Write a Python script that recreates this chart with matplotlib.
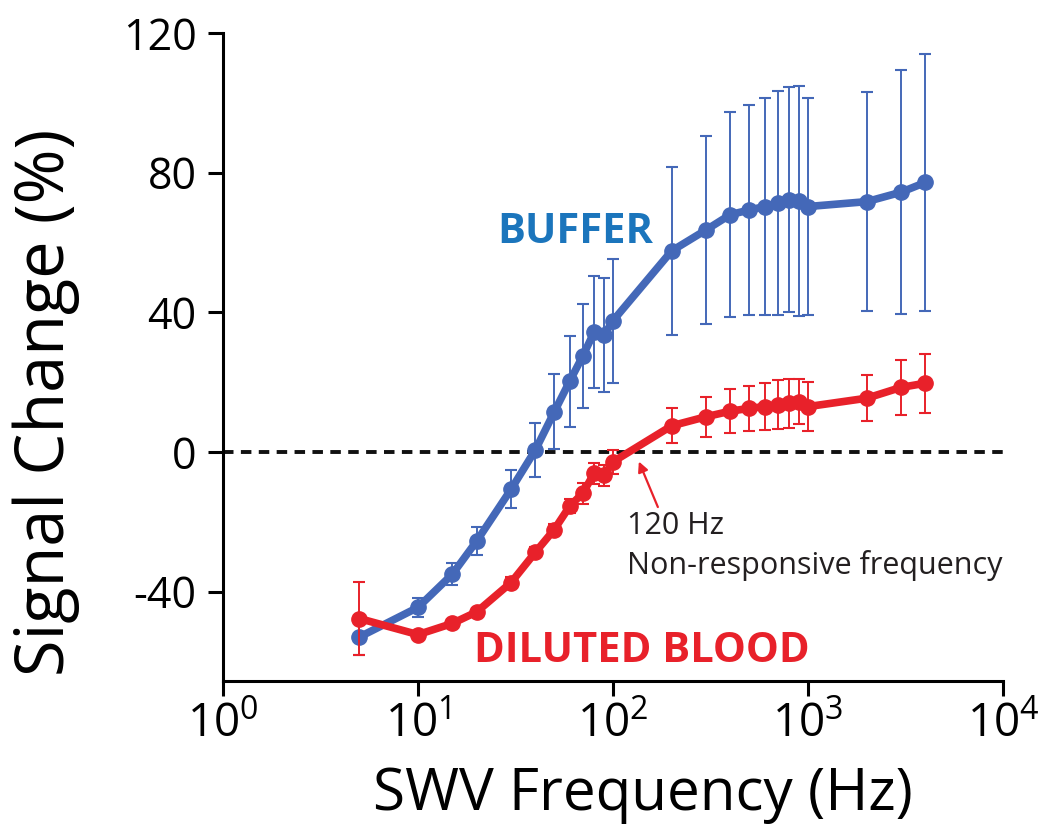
import matplotlib
matplotlib.use("Agg")
import matplotlib.pyplot as plt

plt.rcParams["font.family"] = ["Open Sans", "DejaVu Sans"]
plt.rcParams["mathtext.fontset"] = "custom"
plt.rcParams["mathtext.rm"] = "Open Sans"
plt.rcParams["mathtext.it"] = "Open Sans"

# SWV frequencies (Hz) and mean signal change (%) with error bars
freq = [5, 10, 15, 20, 30, 40, 50, 60, 70, 80, 90, 100,
        200, 300, 400, 500, 600, 700, 800, 900, 1000, 2000, 3000, 4000]

buffer_mean = [-53.0, -44.5, -35.0, -25.5, -10.7, 0.6, 11.5, 20.3, 27.5, 34.3, 33.5, 37.6,
               57.6, 63.6, 68.0, 69.3, 70.3, 71.3, 72.2, 71.9, 70.3, 71.7, 74.4, 77.2]
buffer_err = [5.0, 2.7, 3.2, 3.9, 5.4, 7.8, 10.7, 13.0, 15.0, 16.0, 16.3, 17.7,
              24.0, 27.0, 29.3, 30.0, 31.0, 32.0, 32.2, 33.0, 31.0, 31.4, 35.0, 36.7]

blood_mean = [-47.7, -52.3, -49.1, -45.8, -37.4, -28.7, -22.2, -15.5, -11.8, -6.1, -6.6, -2.8,
              7.5, 10.1, 11.7, 12.5, 13.0, 13.5, 14.0, 14.4, 13.0, 15.4, 18.5, 19.7]
blood_err = [10.5, 1.0, 1.0, 1.2, 1.5, 1.5, 1.5, 2.0, 3.0, 3.0, 3.0, 3.5,
             5.0, 5.7, 6.3, 6.5, 6.8, 7.0, 7.0, 6.5, 7.0, 6.6, 7.8, 8.5]

x_ticks = [1, 10, 100, 1000, 10000]
x_tick_labels = [r"$\mathregular{10^{%d}}$" % i for i in range(5)]
y_ticks = [-40, 0, 40, 80, 120]

blue = "#4468b8"
red = "#e8212a"

fig = plt.figure(figsize=(10.56, 8.25), dpi=100)
ax = fig.add_axes([0.2112, 0.1745, 0.7386, 0.7855])

# zero reference line
ax.axhline(0, color="#111111", lw=2.8, ls=(0, (2.7, 1.9)), zorder=1)

ax.errorbar(freq, buffer_mean, yerr=buffer_err, color=blue, lw=5.5, marker="o", ms=11,
            ecolor=blue, elinewidth=1.4, capsize=4, capthick=1.5, zorder=3)
ax.errorbar(freq, blood_mean, yerr=blood_err, color=red, lw=5.5, marker="o", ms=11,
            ecolor=red, elinewidth=1.4, capsize=4, capthick=1.5, zorder=4)

ax.set_xscale("log")
ax.set_xlim(1, 10000)
ax.set_ylim(-65.6, 120)
ax.set_xticks(x_ticks)
ax.set_xticklabels(x_tick_labels)
ax.minorticks_off()
ax.set_yticks(y_ticks)
ax.set_yticklabels([str(v) for v in y_ticks])

for side in ["top", "right"]:
    ax.spines[side].set_visible(False)
for side in ["left", "bottom"]:
    ax.spines[side].set_linewidth(2.2)

ax.tick_params(axis="y", direction="out", length=11, width=2.2, labelsize=31, pad=8)
ax.tick_params(axis="x", direction="out", length=11, width=2.2, labelsize=33, pad=4)

ax.set_xlabel("SWV Frequency (Hz)", fontsize=42)
ax.set_ylabel("Signal Change (%)", fontsize=48)
ax.xaxis.set_label_coords(0.538, -0.131)
ax.yaxis.set_label_coords(-0.183, 0.43)

ax.text(64, 63.0, "BUFFER", color="#1b75bc", fontsize=30, fontweight="bold",
        ha="center", va="center")
ax.text(141, -57.0, "DILUTED BLOOD", color=red, fontsize=30, fontweight="bold",
        ha="center", va="center")

# arrow to the zero crossing of the blood curve
ax.annotate("", xy=(134, -2.0), xytext=(172, -16.5),
            arrowprops=dict(arrowstyle="-|>", color=red, lw=1.6, mutation_scale=15))
ax.text(118, -17.0, "120 Hz\nNon-responsive frequency", color="#231f20", fontsize=22,
        ha="left", va="top", linespacing=1.38)

fig.savefig("out.png", dpi=100)
